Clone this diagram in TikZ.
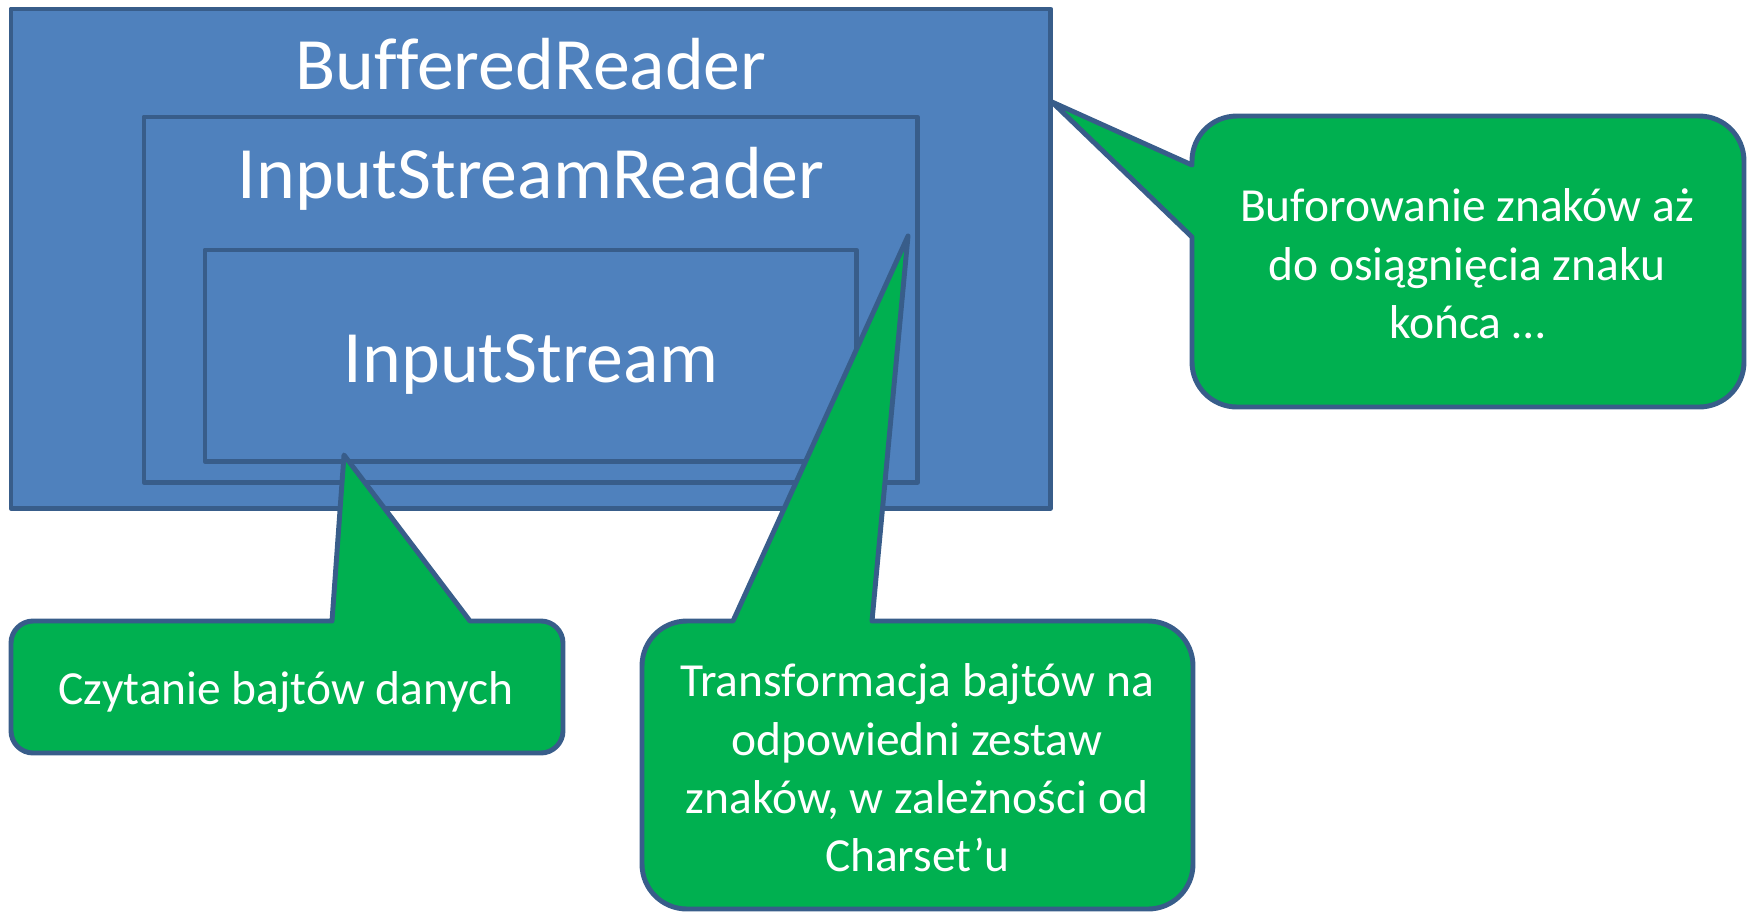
\documentclass[tikz,border=0pt]{standalone}
\usepackage{fontspec}
\setmainfont{Carlito}[Ligatures=NoCommon]
\definecolor{boxblue}{HTML}{4F81BD}
\definecolor{edgeblue}{HTML}{385D8A}
\definecolor{callgreen}{HTML}{00B050}
\begin{document}
\begin{tikzpicture}[x=0.01cm,y=-0.01cm,
  bluebox/.style={draw=edgeblue,fill=boxblue,line width=1.4pt,line join=round,inner sep=0pt,outer sep=0pt,anchor=north west},
  callout/.style={draw=edgeblue,fill=callgreen,line width=1.4pt,line join=round},
  bigtext/.style={text=white,font=\fontsize{21}{25}\selectfont,inner sep=0pt,anchor=base},
  calltext/.style={text=white,font=\fontsize{13.5}{16.6}\selectfont,align=center,inner sep=0pt}]
\useasboundingbox (0,0) rectangle (1747,911);
% nested boxes
\node[bluebox,minimum width=10.39cm,minimum height=4.99cm] (outer) at (11,9) {};
\node[bluebox,minimum width=7.73cm,minimum height=3.65cm] (middle) at (144,117) {};
\node[bluebox,minimum width=6.51cm,minimum height=2.11cm] (inner) at (205,250) {};
\node[bigtext] (lbuf) at (531,89) {BufferedReader};
\node[bigtext] (lisr) at (531,198) {InputStreamReader};
\node[bigtext] (lis) at (531,382) {InputStream};
% right callout
\draw[callout] (1192,165) -- (1052,102) -- (1192,237) -- (1192,362)
  .. controls (1192,387) and (1212,407) .. (1237,407) -- (1699,407)
  .. controls (1724,407) and (1744,387) .. (1744,362) -- (1744,161)
  .. controls (1744,136) and (1724,116) .. (1699,116) -- (1237,116)
  .. controls (1212,116) and (1192,136) .. (1192,161) -- cycle;
\node[calltext] (cbuf) at (1467,264) {Buforowanie znaków aż\\do osiągnięcia znaku\\końca …};
% bottom-left callout
\draw[callout] (332,621) -- (344,455) -- (470,621) -- (541,621)
  .. controls (553,621) and (563,631) .. (563,643) -- (563,731)
  .. controls (563,743) and (553,753) .. (541,753) -- (33,753)
  .. controls (21,753) and (11,743) .. (11,731) -- (11,643)
  .. controls (11,631) and (21,621) .. (33,621) -- cycle;
\node[calltext,anchor=base] (cread) at (286,704) {Czytanie bajtów danych};
% bottom-right callout
\draw[callout] (733,621) -- (908,236) -- (872,621) -- (1148,621)
  .. controls (1173,621) and (1193,641) .. (1193,666) -- (1193,864)
  .. controls (1193,889) and (1173,909) .. (1148,909) -- (687,909)
  .. controls (662,909) and (642,889) .. (642,864) -- (642,666)
  .. controls (642,641) and (662,621) .. (687,621) -- cycle;
\node[calltext] (ctrans) at (917,768) {Transformacja bajtów na\\odpowiedni zestaw\\znaków, w zależności od\\Charset’u};
\end{tikzpicture}
\end{document}
